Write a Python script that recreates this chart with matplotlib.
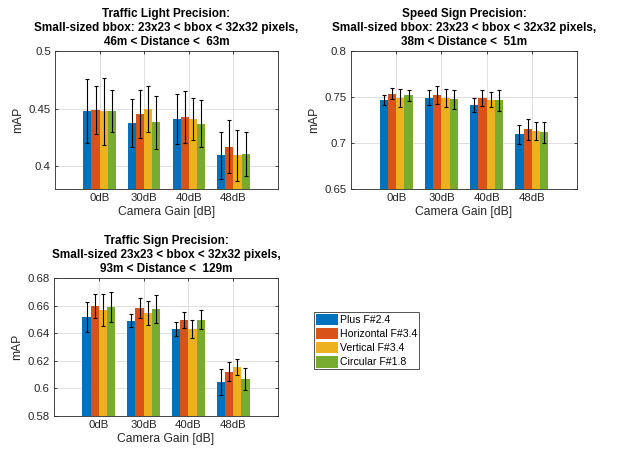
import matplotlib
matplotlib.use("Agg")
import matplotlib.pyplot as plt
import numpy as np
from matplotlib.patches import Patch

plt.rcParams['font.family'] = ['Liberation Sans', 'DejaVu Sans']

categories = ["0dB", "30dB", "40dB", "48dB"]
series = ["Plus F#2.4", "Horizontal F#3.4", "Vertical F#3.4", "Circular F#1.8"]
colors = ["#0072BD", "#D95319", "#EDB120", "#77AC30"]

# Traffic light: rows = series, cols = categories
tl_vals = [[0.4477, 0.4376, 0.4408, 0.4092],
           [0.4488, 0.4451, 0.4425, 0.4168],
           [0.4474, 0.4500, 0.4410, 0.4092],
           [0.4477, 0.4382, 0.4367, 0.4107]]
tl_err = [[0.028, 0.021, 0.0214, 0.0208],
          [0.021, 0.021, 0.0225, 0.0228],
          [0.029, 0.020, 0.018, 0.0222],
          [0.0185, 0.023, 0.0205, 0.019]]

ss_vals = [[0.7471, 0.7493, 0.7413, 0.7094],
           [0.7536, 0.7525, 0.7489, 0.7149],
           [0.7493, 0.7493, 0.7471, 0.7134],
           [0.7518, 0.7478, 0.7464, 0.7116]]
ss_err = [[0.0056, 0.008, 0.0078, 0.0105],
          [0.006, 0.0098, 0.009, 0.0114],
          [0.0098, 0.0098, 0.0078, 0.0098],
          [0.006, 0.0103, 0.0116, 0.0115]]

ts_vals = [[0.6517, 0.6492, 0.6430, 0.6045],
           [0.6599, 0.6582, 0.6497, 0.6122],
           [0.6568, 0.6546, 0.6430, 0.6154],
           [0.6592, 0.6577, 0.6499, 0.6066]]
ts_err = [[0.011, 0.005, 0.0053, 0.0096],
          [0.0087, 0.007, 0.0057, 0.0072],
          [0.0114, 0.0085, 0.0064, 0.0058],
          [0.0108, 0.010, 0.0072, 0.008]]

titles = ["Traffic Light Precision:\nSmall-sized bbox: 23x23 < bbox < 32x32 pixels,\n46m < Distance <  63m",
          "Speed Sign Precision:\nSmall-sized bbox: 23x23 < bbox < 32x32 pixels,\n38m < Distance <  51m",
          "Traffic Sign Precision:\nSmall-sized 23x23 < bbox < 32x32 pixels,\n93m < Distance <  129m"]
ylims = [(0.38, 0.5), (0.65, 0.8), (0.58, 0.68)]
yticks = [[0.4, 0.45, 0.5], [0.65, 0.7, 0.75, 0.8], [0.58, 0.6, 0.62, 0.64, 0.66, 0.68]]
ytlabels = [["0.4", "0.45", "0.5"], ["0.65", "0.7", "0.75", "0.8"],
            ["0.58", "0.6", "0.62", "0.64", "0.66", "0.68"]]

W, H = 620, 449
fig = plt.figure(figsize=(W/100, H/100), dpi=100)
rects = [(55, 51, 223, 138), (351, 51, 226, 138), (54, 278, 224, 138)]
datasets = [(tl_vals, tl_err), (ss_vals, ss_err), (ts_vals, ts_err)]
gray = (0.15, 0.15, 0.15)
fs = 8.2

x = np.arange(1, len(categories) + 1)
bw = 0.182
for k, ((l, t, w, h), (vals, errs)) in enumerate(zip(rects, datasets)):
    ax = fig.add_axes([l/W, 1 - (t + h)/H, w/W, h/H])
    for i in range(len(series)):
        off = (i - 1.5) * bw
        ax.bar(x + off, vals[i], width=bw, color=colors[i], zorder=2, linewidth=0)
        ax.errorbar(x + off, vals[i], yerr=errs[i], fmt='none', ecolor='black',
                    elinewidth=0.8, capsize=1.6, capthick=0.8, zorder=3)
    ax.set_xlim(0, 5)
    ax.set_ylim(*ylims[k])
    ax.set_xticks(x)
    ax.set_xticklabels(categories)
    ax.set_yticks(yticks[k])
    ax.set_yticklabels(ytlabels[k])
    ax.grid(True, color=(0.88, 0.88, 0.88), linewidth=0.7, zorder=0)
    ax.set_axisbelow(True)
    ax.tick_params(direction='in', length=2.5, width=0.6, colors=gray, labelsize=fs,
                   top=True, right=True, labelcolor=gray, pad=3)
    for s in ax.spines.values():
        s.set_color(gray)
        s.set_linewidth(0.6)
    ax.set_ylabel("mAP", fontsize=8.7, color=gray, labelpad=3)
    ax.set_xlabel("Camera Gain [dB]", fontsize=8.7, color=gray, labelpad=2)
    ax.set_title(titles[k], fontsize=8.5, fontweight='bold', color='black',
                 linespacing=1.22, pad=4.5)

handles = [Patch(facecolor=c, edgecolor='none') for c in colors]
leg = fig.legend(handles, series, loc='upper left', bbox_to_anchor=(314/W, 1 - 312/H),
                 fontsize=7.6, frameon=True, fancybox=False, borderpad=0.15,
                 labelspacing=0.25, handlelength=2.1, handleheight=1.3,
                 handletextpad=0.2, borderaxespad=0)
leg.get_frame().set_edgecolor(gray)
leg.get_frame().set_linewidth(0.7)

fig.savefig("out.png", dpi=100, facecolor='white')
